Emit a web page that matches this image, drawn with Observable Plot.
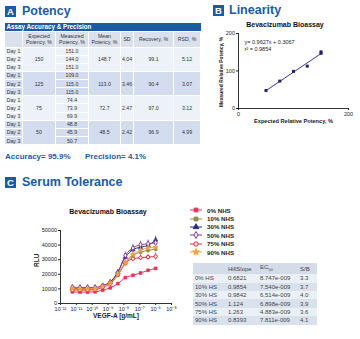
<!DOCTYPE html>
<html><head><meta charset="utf-8">
<script src="https://cdn.jsdelivr.net/npm/d3@7"></script>
<script src="https://cdn.jsdelivr.net/npm/@observablehq/plot@0.6"></script>
<style>
body{margin:0;width:360px;height:339px;position:relative;overflow:hidden;background:#fff;font-family:"Liberation Sans",Arial,sans-serif;}
.abs{position:absolute;}
.badge{position:absolute;width:11px;height:11px;background:#1d5aa5;color:#fff;font-weight:bold;font-size:9.5px;line-height:11px;text-align:center;}
.h{position:absolute;color:#1d5aa5;font-weight:bold;font-size:12.5px;line-height:13px;white-space:nowrap;}
table{border-collapse:collapse;table-layout:fixed;}
table.acc{font-size:5.2px;color:#333;}
table.acc td{border:1px solid #fff;padding:0;text-align:center;line-height:6px;overflow:hidden;}
table.hs{font-size:6px;color:#444;}
table.hs td{padding:0 0 0 2px;text-align:left;height:8.4px;line-height:8px;white-space:nowrap;}
.ctitle{position:absolute;font-weight:bold;font-size:7px;text-align:center;color:#111;}
.leg{position:absolute;font-size:6.2px;font-weight:bold;color:#222;}
.leg div{height:8.4px;display:flex;align-items:center;}
.leg svg{margin-right:4px;}
.ylab{position:absolute;width:90px;height:6px;line-height:6px;font-size:4.9px;font-weight:bold;color:#222;text-align:center;white-space:nowrap;transform:rotate(-90deg);transform-origin:50% 50%;}
</style></head><body>
<div id="root"></div>
<script>
// ---------- data ----------
const dayLabels = ["Day 1","Day 2","Day 3"];
const expected = [150,125,75,50];
const measured = [["151.0","144.0","151.0"],["109.0","115.0","115.0"],["74.4","73.9","69.9"],["48.8","45.9","50.7"]];
const meanPot = ["148.7","113.0","72.7","48.5"];
const sdPot = ["4.04","3.46","2.47","2.42"];
const recovery = ["99.1","90.4","97.0","96.9"];
const rsd = ["5.12","3.07","3.12","4.99"];

const linExpected = [50,75,100,125,150,150];
const linMeasured = [48,73,99,113,151,147];

const conc = [5.65e-12,1.69e-11,5.08e-11,1.52e-10,4.57e-10,1.37e-9,4.12e-9,1.23e-8,3.70e-8,1.11e-7,3.33e-7,1e-6];
const seriesNames = ["0% NHS","10% NHS","30% NHS","50% NHS","75% NHS","90% NHS"];
const rlu0  = [8000,7800,7800,8000,9100,10700,13600,17700,19300,20900,22700,24000];
const rlu10 = [10000,10000,10000,10300,12000,14300,20000,28000,33000,35200,36400,37300];
const rlu30 = [10200,10200,10300,10500,12300,14800,21600,31800,36800,38600,39800,43600];
const rlu50 = [11200,11000,11000,11000,12200,14500,21000,33000,38000,40200,40900,41600];
const rlu75 = [9300,9200,9200,9500,11300,13600,19500,27500,30700,31400,31800,32200];
const rlu90 = [10100,10000,10000,10200,11800,14000,20000,28300,33600,36400,38200,38600];
const sd0  = [400,400,400,400,400,500,500,600,600,700,800,900];
const sd10 = [500,500,500,500,600,700,900,1500,1800,1800,1800,2000];
const sd30 = [500,500,500,500,600,700,1000,1800,2000,2000,2200,2400];
const sd50 = [600,600,600,600,600,800,1200,2200,2400,2500,2600,3200];
const sd75 = [500,500,500,500,600,700,1000,1600,1600,1800,1800,2400];
const sd90 = [500,500,500,500,600,700,1000,1600,1800,1900,2000,2000];

const hsLabels = ["0% HS","10% HS","30% HS","50% HS","75% HS","90% HS"];
const hill = ["0.6821","0.9854","0.9842","1.124","1.263","0.8393"];
const ec50 = ["8.747e-009","7.540e-009","6.514e-009","6.898e-009","4.883e-009","7.811e-009"];
const sb = ["3.3","3.7","4.0","3.9","3.6","4.1"];

const colors = ["#e8335a","#8e8a45","#2c2c8e","#7a3e8e","#e2283a","#f2a23a"];
const symbols = ["square","square","triangle","diamond","circle","star"];
const filled = [true,true,true,false,false,true];

// ---------- layout ----------
const root = document.getElementById("root");
function add(html){ const d=document.createElement("div"); d.innerHTML=html; while(d.firstChild) root.appendChild(d.firstChild); }

add(`<div class="badge" style="left:5px;top:6px">A</div><div class="h" style="left:22px;top:5px">Potency</div>`);
add(`<div class="badge" style="left:213px;top:5px">B</div><div class="h" style="left:229px;top:4px">Linearity</div>`);
add(`<div class="badge" style="left:5px;top:177px">C</div><div class="h" style="left:22px;top:176px">Serum Tolerance</div>`);

// accuracy table
const groupBg = ["#edf1f8","#d3ddef","#edf1f8","#d3ddef"];
let t = `<table class="acc abs" style="left:4px;top:23px;width:196px">
<colgroup><col style="width:18px"><col style="width:33px"><col style="width:33px"><col style="width:32px"><col style="width:13px"><col style="width:40px"><col style="width:27px"></colgroup>
<tr style="height:8px"><td colspan="7" style="background:#1d5aa5;color:#fff;font-weight:bold;font-size:6.3px;text-align:left;padding-left:2px;border:none">Assay Accuracy &amp; Precision</td></tr>
<tr style="height:16px;background:#dbe1ec"><td></td><td>Expected<br>Potency, %</td><td>Measured<br>Potency, %</td><td>Mean<br>Potency, %</td><td>SD</td><td>Recovery, %</td><td>RSD, %</td></tr>`;
expected.forEach((e,g)=>{
  dayLabels.forEach((dl,i)=>{
    t += `<tr style="height:8.15px;background:${groupBg[g]}"><td>${dl}</td>`;
    if(i===0) t += `<td rowspan="3">${e}</td>`;
    t += `<td>${measured[g][i]}</td>`;
    if(i===0) t += `<td rowspan="3">${meanPot[g]}</td><td rowspan="3">${sdPot[g]}</td><td rowspan="3">${recovery[g]}</td><td rowspan="3">${rsd[g]}</td>`;
    t += `</tr>`;
  });
});
t += `</table>`;
add(t);
add(`<div class="abs" style="left:5px;top:152px;font-size:8px;font-weight:bold;color:#1d5aa5;white-space:nowrap">Accuracy= 95.9%</div>
<div class="abs" style="left:85px;top:152px;font-size:8px;font-weight:bold;color:#1d5aa5;white-space:nowrap">Precision= 4.1%</div>`);

// HS table
const hsBg = ["#ebf0f7","#d9e1ed"];
let h = `<table class="hs abs" style="left:193px;top:263px;width:124px">
<colgroup><col style="width:33px"><col style="width:32px"><col style="width:40px"><col style="width:19px"></colgroup>
<tr style="background:#d4dce9"><td></td><td>HillSlope</td><td>EC<sub style="font-size:4px">50</sub></td><td>S/B</td></tr>`;
hsLabels.forEach((l,i)=>{ h += `<tr style="background:${hsBg[i%2]}"><td>${l}</td><td>${hill[i]}</td><td>${ec50[i]}</td><td>${sb[i]}</td></tr>`; });
h += `</table>`;
add(h);

// chart titles
add(`<div class="ctitle" style="left:235px;width:100px;top:21px">Bevacizumab Bioassay</div>`);
add(`<div class="ctitle" style="left:58px;width:100px;top:208px">Bevacizumab Bioassay</div>`);

// legend
let lg = `<div class="leg" style="left:189px;top:206px">`;
seriesNames.forEach((n,i)=>{
  const p = d3.symbol(d3["symbol"+symbols[i][0].toUpperCase()+symbols[i].slice(1)], 14)();
  lg += `<div><svg width="14" height="8"><line x1="1" x2="13" y1="4" y2="4" stroke="${colors[i]}" stroke-width="1"/><path transform="translate(7,4)" d="${p}" fill="${filled[i]?colors[i]:"#fff"}" stroke="${colors[i]}" stroke-width="1"/></svg>${n}</div>`;
});
lg += `</div>`;
add(lg);

const font = "Liberation Sans, Arial, sans-serif";

// ---------- Linearity ----------
const linData = linExpected.map((x,i)=>({x, y: linMeasured[i]}));
const lin = Plot.plot({
  width:155, height:115, marginLeft:33, marginRight:12, marginTop:15, marginBottom:25,
  style:{fontSize:"5.5px", fontFamily:font, color:"#222", background:"transparent", overflow:"visible"},
  x:{domain:[0,200], ticks:[0,50,100,150,200]},
  y:{domain:[0,200], ticks:[0,50,100,150,200]},
  marks:[
    Plot.axisX({tickSize:2, tickPadding:1.5, label:null}),
    Plot.axisY({tickSize:2, tickPadding:1.5, label:null}),
    Plot.ruleX([0],{strokeWidth:1, stroke:"#333"}),
    Plot.ruleY([0],{strokeWidth:1, stroke:"#333"}),
    Plot.linearRegressionY(linData,{x:"x", y:"y", stroke:"#3a3a8c", strokeWidth:1, ci:0}),
    Plot.dot(linData,{x:"x", y:"y", symbol:"square", fill:"#23236e", r:1.7}),
    Plot.text(["y= 0.9627x + 0.3067"],{text:d=>d, frameAnchor:"top-left", dx:6, dy:7, fontSize:5.5, textAnchor:"start"}),
    Plot.text(["r² = 0.9854"],{text:d=>d, frameAnchor:"top-left", dx:6, dy:14, fontSize:5.5, textAnchor:"start"}),
    Plot.text(["Expected Relative Potency, %"],{text:d=>d, frameAnchor:"bottom", dy:14, fontSize:5.6, fontWeight:"bold"})
  ]
});
lin.style.position="absolute"; lin.style.left="205px"; lin.style.top="18px";
root.appendChild(lin);
add(`<div class="ylab" style="left:177px;top:69px">Measured Relative Potency, %</div>`);

// ---------- Serum tolerance ----------
const rluAll = [rlu0,rlu10,rlu30,rlu50,rlu75,rlu90];
const sdAll = [sd0,sd10,sd30,sd50,sd75,sd90];
const rows = [];
seriesNames.forEach((s,si)=>conc.forEach((c,k)=>rows.push({s, si, c, y:rluAll[si][k], lo:rluAll[si][k]-sdAll[si][k], hi:rluAll[si][k]+sdAll[si][k]})));
const sup = {"-":"⁻","0":"⁰","1":"¹","2":"²","3":"³","4":"⁴","5":"⁵","6":"⁶","7":"⁷","8":"⁸","9":"⁹"};
const fmtPow = d => "10" + String(Math.round(Math.log10(d))).split("").map(ch=>sup[ch]).join("");
const serMarks = [
  Plot.axisX({ticks:[1e-12,1e-11,1e-10,1e-9,1e-8,1e-7,1e-6,1e-5], tickFormat:fmtPow, tickSize:2, tickPadding:1.5, label:null}),
  Plot.axisY({ticks:[0,10000,20000,30000,40000,50000], tickFormat:d=>String(d), tickSize:2, tickPadding:1.5, label:null}),
  Plot.ruleX([1e-12],{stroke:"#333"}),
  Plot.ruleY([0],{stroke:"#333"})
];
seriesNames.forEach((s,si)=>{
  const d = rows.filter(r=>r.si===si);
  serMarks.push(
    Plot.line(d,{x:"c", y:"y", stroke:colors[si], strokeWidth:1, curve:"monotone-x"}),
    Plot.ruleX(d,{x:"c", y1:"lo", y2:"hi", stroke:colors[si], strokeWidth:0.8}),
    Plot.dot(d,{x:"c", y:"y", symbol:symbols[si], r:1.7, fill:filled[si]?colors[si]:"#fff", stroke:colors[si], strokeWidth:filled[si]?0.5:1})
  );
});
serMarks.push(
  Plot.text(["VEGF-A [g/mL]"],{text:d=>d, frameAnchor:"bottom", dy:14, fontSize:6.5, fontWeight:"bold"}),
  Plot.text(["RLU"],{text:d=>d, frameAnchor:"left", dx:-24, rotate:-90, fontSize:6.5, fontWeight:"bold"})
);
const ser = Plot.plot({
  width:165, height:106, marginLeft:40, marginRight:14, marginTop:8, marginBottom:25,
  style:{fontSize:"5.5px", fontFamily:font, color:"#222", background:"transparent", overflow:"visible"},
  x:{type:"log", domain:[1e-12,1e-5]},
  y:{domain:[0,50000]},
  marks: serMarks
});
ser.style.position="absolute"; ser.style.left="20px"; ser.style.top="222px";
root.appendChild(ser);
</script>
</body></html>
